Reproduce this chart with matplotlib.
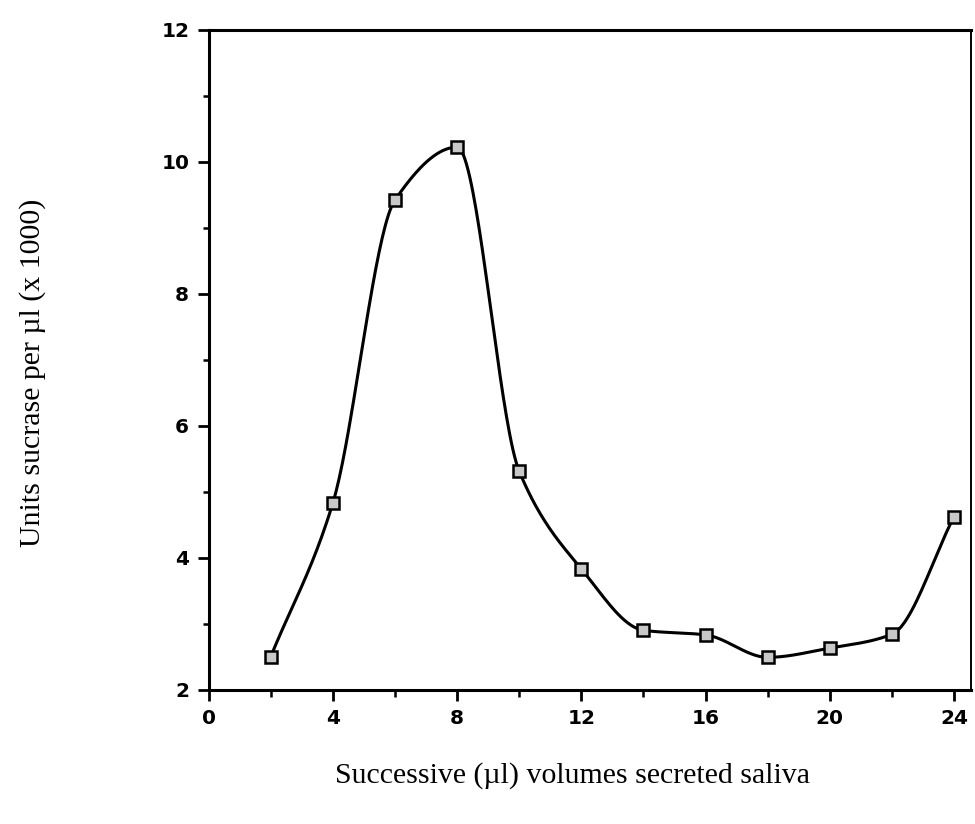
import numpy as np
import matplotlib
matplotlib.use("Agg")
import matplotlib.pyplot as plt
from matplotlib.ticker import MultipleLocator

# Data
volume_ul = [2, 4, 6, 8, 10, 12, 14, 16, 18, 20, 22, 24]
sucrase_units = [2.5, 4.83, 9.42, 10.22, 5.31, 3.83, 2.9, 2.83, 2.49, 2.63, 2.84, 4.62]
x_label = "Successive (\u00b5l) volumes secreted saliva"
y_label = "Units sucrase per \u00b5l (x 1000)"


def pchip(x, y, n=40):
    x = np.asarray(x, float)
    y = np.asarray(y, float)
    h = np.diff(x)
    d = np.diff(y) / h
    m = np.zeros_like(y)
    for k in range(1, len(x) - 1):
        if d[k - 1] * d[k] <= 0:
            m[k] = 0.0
        else:
            w1 = 2 * h[k] + h[k - 1]
            w2 = h[k] + 2 * h[k - 1]
            m[k] = (w1 + w2) / (w1 / d[k - 1] + w2 / d[k])
    m[0] = d[0]
    m[-1] = d[-1]
    xs, ys = [], []
    for k in range(len(x) - 1):
        t = np.linspace(0, 1, n)
        h00 = 2 * t**3 - 3 * t**2 + 1
        h10 = t**3 - 2 * t**2 + t
        h01 = -2 * t**3 + 3 * t**2
        h11 = t**3 - t**2
        xs.append(x[k] + t * h[k])
        ys.append(h00 * y[k] + h10 * h[k] * m[k] + h01 * y[k + 1] + h11 * h[k] * m[k + 1])
    return np.concatenate(xs), np.concatenate(ys)


fig = plt.figure(figsize=(9.75, 8.24), dpi=100)
ax = fig.add_axes([0.214, 0.163, 0.782, 0.801])

sx, sy = pchip(volume_ul, sucrase_units)
ax.plot(sx, sy, color="black", lw=2.2, zorder=2)
ax.plot(volume_ul, sucrase_units, linestyle="none", marker="s", markersize=8,
        markerfacecolor="#c8c8c8", markeredgecolor="black", markeredgewidth=1.8, zorder=3)

ax.set_xlim(0, 24.55)
ax.set_ylim(2, 12)
ax.xaxis.set_major_locator(MultipleLocator(4))
ax.xaxis.set_minor_locator(MultipleLocator(2))
ax.yaxis.set_major_locator(MultipleLocator(2))
ax.yaxis.set_minor_locator(MultipleLocator(1))

for s in ax.spines.values():
    s.set_linewidth(2.2)
ax.spines["right"].set_linewidth(1.4)

ax.tick_params(which="major", direction="out", length=8, width=2, labelsize=14.5, pad=6)
ax.tick_params(which="minor", direction="out", length=5, width=1.8)
ax.tick_params(axis="y", which="minor", length=4)
for lab in ax.get_xticklabels() + ax.get_yticklabels():
    lab.set_fontfamily(["DejaVu Sans"])
    lab.set_fontweight("bold")

fig.text(0.587, 0.059, x_label, ha="center", va="center",
         fontsize=21.5, family=["Liberation Serif", "DejaVu Serif"])
fig.text(0.033, 0.547, y_label, ha="center", va="center", rotation=90,
         fontsize=21.5, family=["Liberation Serif", "DejaVu Serif"])

fig.savefig("out.png", dpi=100)
